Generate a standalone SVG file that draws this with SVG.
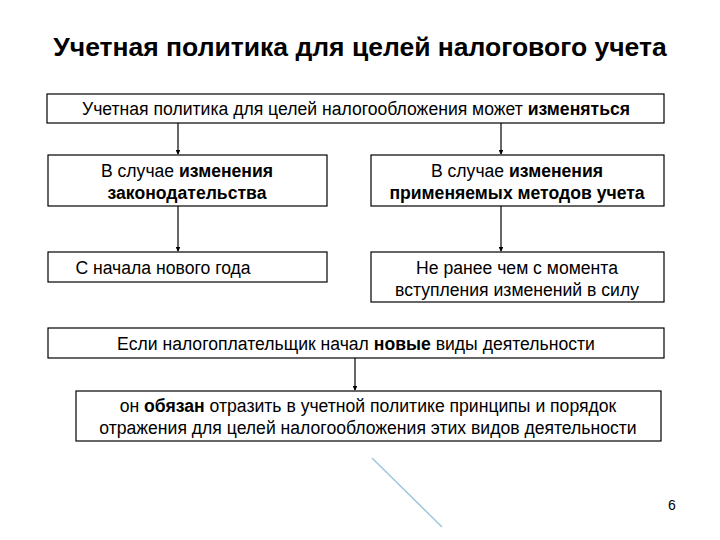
<svg xmlns="http://www.w3.org/2000/svg" width="720" height="540" viewBox="0 0 720 540">
<style>
text{font-family:"Liberation Sans",Arial,sans-serif;font-size:17.6px;fill:#000;text-anchor:middle}
.b{font-weight:bold}
rect{fill:#fff;stroke:#000;stroke-width:1.2}
.c line{stroke:#000;stroke-width:1.2}
</style>
<defs><marker id="a" viewBox="0 0 6 6" refX="5" refY="3" markerWidth="4" markerHeight="4" orient="auto"><path d="M0,0L6,3L0,6z" fill="#000"/></marker></defs>
<rect x="0" y="0" width="720" height="540" style="stroke:none"/>
<text x="360" y="56" class="b" style="font-size:26.5px">Учетная политика для целей налогового учета</text>
<g class="c">
<line x1="178" y1="123" x2="178" y2="154" marker-end="url(#a)"/>
<line x1="501" y1="123" x2="501" y2="154" marker-end="url(#a)"/>
<line x1="178" y1="206" x2="178" y2="251" marker-end="url(#a)"/>
<line x1="501" y1="206" x2="501" y2="251" marker-end="url(#a)"/>
<line x1="355" y1="358" x2="355" y2="390" marker-end="url(#a)"/>
</g>
<g id="n0"><rect x="47" y="94" width="617" height="29"/><text x="356" y="115">Учетная политика для целей налогообложения может <tspan class="b">изменяться</tspan></text></g>
<g id="n1"><rect x="48" y="155" width="279" height="51"/><text x="187" y="177">В случае <tspan class="b">изменения</tspan></text><text x="187" y="199" class="b">законодательства</text></g>
<g id="n2"><rect x="371" y="155" width="293" height="51"/><text x="517" y="177">В случае <tspan class="b">изменения</tspan></text><text x="517" y="199" class="b">применяемых методов учета</text></g>
<g id="n3"><rect x="48" y="252" width="279" height="30"/><text x="163" y="274">С начала нового года</text></g>
<g id="n4"><rect x="371" y="252" width="293" height="50"/><text x="517" y="274">Не ранее чем с момента</text><text x="517" y="296">вступления изменений в силу</text></g>
<g id="n5"><rect x="48" y="328" width="616" height="30"/><text x="356" y="350">Если налогоплательщик начал <tspan class="b">новые</tspan> виды деятельности</text></g>
<g id="n6"><rect x="76" y="391" width="585" height="50"/><text x="368" y="412">он <tspan class="b">обязан</tspan> отразить в учетной политике принципы и порядок</text><text x="368" y="434">отражения для целей налогообложения этих видов деятельности</text></g>
<line x1="372" y1="458" x2="442" y2="527" stroke="#9cc7dd" stroke-width="1.5"/>
<text x="672" y="510" style="font-size:14px">6</text>
</svg>
